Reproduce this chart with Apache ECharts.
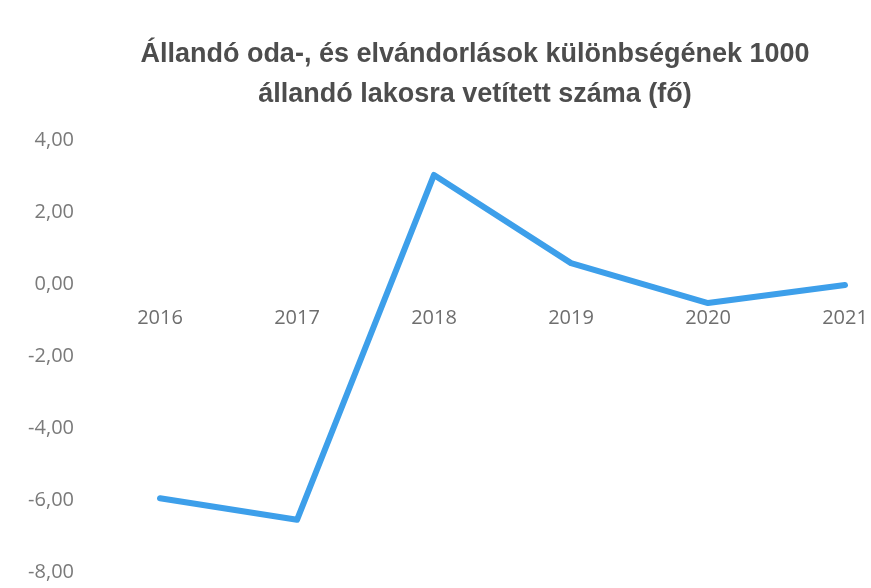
<!DOCTYPE html>
<html>
<head>
<meta charset="utf-8">
<script src="https://cdn.jsdelivr.net/npm/echarts@6/dist/echarts.min.js"></script>
<style>
  html, body { margin: 0; padding: 0; background: #fff; }
  #chart { width: 871px; height: 588px; }
</style>
</head>
<body>
<div id="chart"></div>
<script>
// years and values
const years = ['2016', '2017', '2018', '2019', '2020', '2021'];
const values = [-5.95, -6.55, 3.03, 0.58, -0.53, -0.03];

const chart = echarts.init(document.getElementById('chart'));

chart.setOption({
  backgroundColor: '#fff',
  title: {
    text: 'Állandó oda-, és elvándorlások különbségének 1000\nállandó lakosra vetített száma (fő)',
    left: 470,
    textAlign: 'center',
    top: 30,
    textStyle: {
      fontFamily: 'Liberation Sans',
      fontWeight: 'bold',
      fontSize: 27,
      lineHeight: 40,
      color: '#4d4d4d'
    }
  },
  grid: {
    left: 160,
    right: 26,
    top: 140,
    bottom: 16,
    outerBoundsMode: 'none'
  },
  xAxis: {
    type: 'category',
    data: years,
    boundaryGap: false,
    // sit the year labels just under the zero line
    offset: -288,
    axisLine: { show: false, onZero: false },
    axisTick: { show: false },
    axisLabel: {
      margin: 24,
      fontFamily: 'Open Sans',
      fontSize: 20,
      color: '#6e6e6e'
    }
  },
  yAxis: {
    type: 'value',
    min: -8,
    max: 4,
    interval: 2,
    splitLine: { show: false },
    axisLine: { show: false },
    axisTick: { show: false },
    axisLabel: {
      margin: 86,
      fontFamily: 'Open Sans',
      fontSize: 20,
      color: '#7a7a7a',
      formatter: v => v.toFixed(2).replace('.', ',')
    }
  },
  series: [{
    type: 'line',
    data: values,
    symbol: 'none',
    lineStyle: { color: '#3d9fea', width: 6, cap: 'round', join: 'round' }
  }]
});
</script>
</body>
</html>
